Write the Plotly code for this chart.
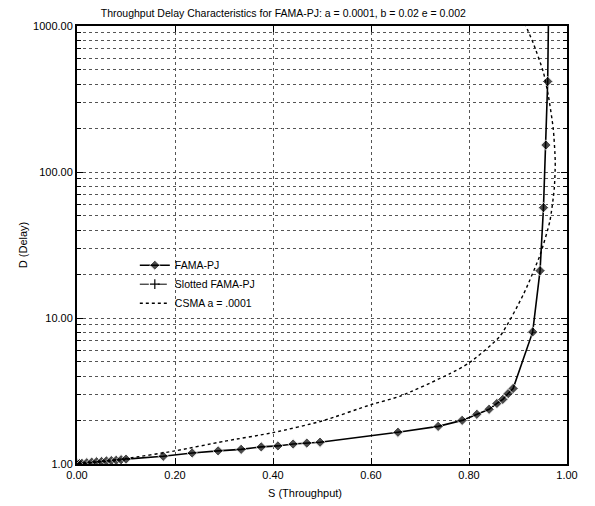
import plotly.graph_objects as go

# FAMA-PJ (throughput S, delay D)
fama_s = [0.0, 0.001, 0.002, 0.005, 0.01, 0.02, 0.03, 0.04, 0.05, 0.06, 0.07, 0.08, 0.09, 0.1,
          0.176, 0.235, 0.288, 0.335, 0.376, 0.41, 0.441, 0.469, 0.496,
          0.655, 0.737, 0.786, 0.816, 0.841, 0.857, 0.869, 0.880, 0.890,
          0.930, 0.945, 0.952, 0.957, 0.9606, 0.962]
fama_d = [1.0, 1.0, 1.0, 1.005, 1.01, 1.02, 1.03, 1.035, 1.04, 1.05, 1.055, 1.06, 1.07, 1.08,
          1.13, 1.19, 1.23, 1.26, 1.31, 1.33, 1.37, 1.39, 1.41,
          1.65, 1.81, 1.99, 2.19, 2.37, 2.6, 2.77, 3.04, 3.29,
          8.03, 21.1, 57.0, 153.0, 417.0, 1000.0]
fama_marker_flags = [True] * (len(fama_s) - 1) + [False]

# Slotted FAMA-PJ (appears only in the legend of the reference)
slotted_s = [None]
slotted_d = [None]

# CSMA a = .0001
csma_s = [0.0, 0.1, 0.2, 0.3, 0.4, 0.5, 0.6, 0.66, 0.76, 0.8, 0.863, 0.911, 0.945, 0.965,
          0.974, 0.976, 0.972, 0.962, 0.952, 0.931, 0.916]
csma_d = [1.0, 1.09, 1.23, 1.43, 1.64, 1.97, 2.55, 2.92, 4.14, 4.92, 7.5, 14.5, 27.0, 46.0,
          77.0, 117.0, 197.0, 332.0, 479.0, 766.0, 1000.0]

x_ticks = [0.0, 0.2, 0.4, 0.6, 0.8, 1.0]
y_ticks = [1, 10, 100, 1000]

FONT = "Liberation Sans, Arial, sans-serif"

fig = go.Figure()

fig.add_trace(go.Scatter(
    x=fama_s, y=fama_d, name="FAMA-PJ", mode="lines+markers",
    line=dict(color="black", width=1.6),
    marker=dict(symbol="diamond", size=[8 if f else 0 for f in fama_marker_flags], color="black"),
))
fig.add_trace(go.Scatter(
    x=slotted_s, y=slotted_d, name="Slotted FAMA-PJ", mode="lines+markers",
    line=dict(color="black", width=1, dash="dash"),
    marker=dict(symbol="cross-thin", size=7, color="black", line=dict(color="black", width=1.2)),
))
fig.add_trace(go.Scatter(
    x=csma_s, y=csma_d, name="CSMA a = .0001", mode="lines",
    line=dict(color="black", width=1.4, dash="dot", shape="spline", smoothing=0.6),
))

grid = dict(showgrid=True, gridcolor="#555", gridwidth=1, griddash="dot")

fig.update_layout(
    width=587, height=498,
    margin=dict(l=69, r=28, t=14, b=42),
    paper_bgcolor="white", plot_bgcolor="white",
    font=dict(family=FONT, size=11, color="black"),
    title=dict(text="Throughput Delay Characteristics for FAMA-PJ: a = 0.0001, b = 0.02 e = 0.002",
               x=0.421, xref="paper", xanchor="center", y=0.99, yanchor="middle",
               font=dict(family=FONT, size=10.5, color="black")),
    showlegend=True,
    legend=dict(x=0.118, y=0.487, xanchor="left", yanchor="top",
                bgcolor="rgba(0,0,0,0)", font=dict(family=FONT, size=10.5),
                itemwidth=30, tracegroupgap=0),
    xaxis=dict(
        range=[0, 1], tickvals=x_ticks, tickformat=".2f",
        showline=True, linecolor="black", linewidth=2, mirror="ticks",
        ticks="inside", ticklen=6, tickcolor="black", zeroline=False,
        **grid,
    ),
    yaxis=dict(
        type="log", range=[0, 3], tickvals=y_ticks, tickformat=".2f",
        title=dict(text="D (Delay)", standoff=3, font=dict(family=FONT, size=11)),
        showline=True, linecolor="black", linewidth=2, mirror="ticks",
        ticks="inside", ticklen=6, tickcolor="black", zeroline=False,
        minor=dict(dtick="D1", ticks="inside", ticklen=4, tickcolor="black",
                   showgrid=True, gridcolor="#555", gridwidth=1, griddash="dot"),
        **grid,
    ),
    annotations=[dict(text="S (Throughput)", xref="paper", yref="paper",
                      x=0.465, y=-0.066, xanchor="center", yanchor="middle",
                      showarrow=False, font=dict(family=FONT, size=11))],
)

fig.write_html("out.html")
